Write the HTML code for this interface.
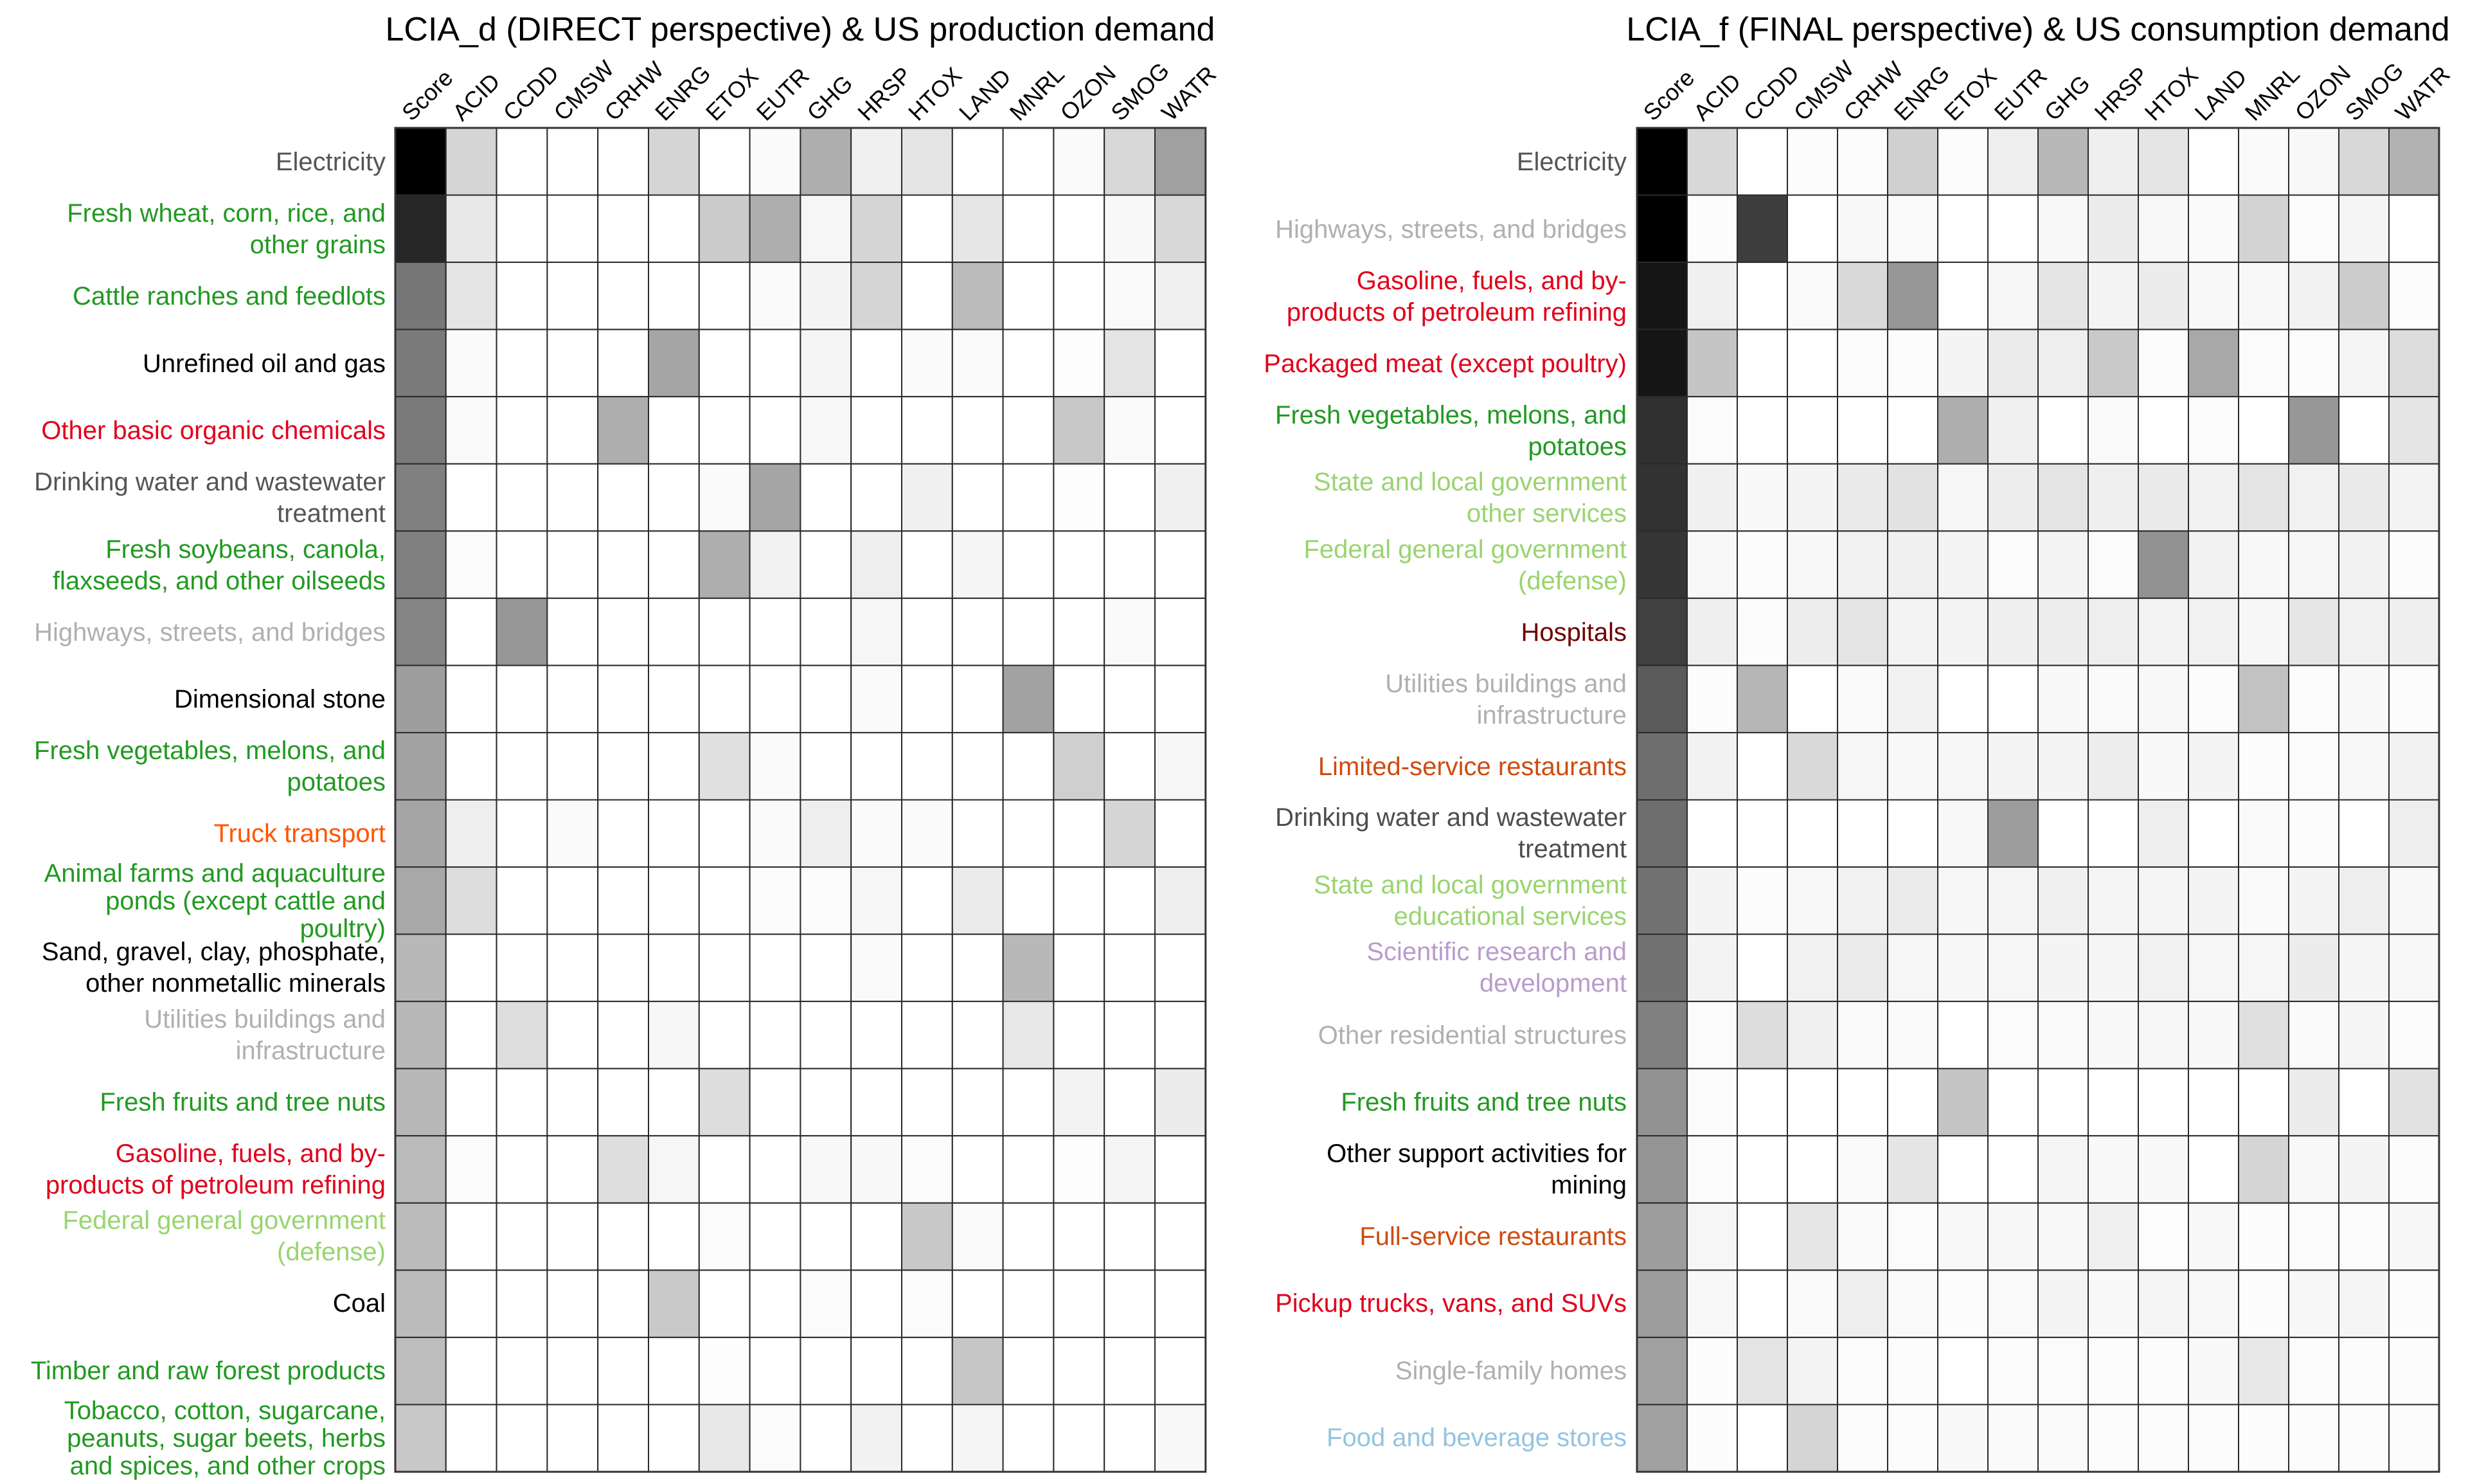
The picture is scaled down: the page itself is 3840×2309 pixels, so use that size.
<!DOCTYPE html>
<html><head><meta charset="utf-8"><style>
html,body{margin:0;padding:0;background:#fff;}
svg text{font-family:"Liberation Sans",Arial,sans-serif;}
</style></head><body>
<svg id="s" width="3840" height="2304" viewBox="0 0 3840 2304" xmlns="http://www.w3.org/2000/svg">
<rect width="3840" height="2304" fill="#fff"/>
<text x="1245" y="63" font-size="52" text-anchor="middle" fill="#000">LCIA_d (DIRECT perspective) &amp; US production demand</text>
<text x="3171" y="63" font-size="52" text-anchor="middle" fill="#000">LCIA_f (FINAL perspective) &amp; US consumption demand</text>
<g id="cells"></g>
<g id="collabs" font-size="36" fill="#000"></g>
<g font-size="40" text-anchor="end">
<text x="600" y="265" fill="#555">Electricity</text>
<text x="600" fill="#229922"><tspan x="600" y="345">Fresh wheat, corn, rice, and</tspan><tspan x="600" y="394">other grains</tspan></text>
<text x="600" y="474" fill="#229922">Cattle ranches and feedlots</text>
<text x="600" y="579" fill="#000">Unrefined oil and gas</text>
<text x="600" y="683" fill="#e0001b">Other basic organic chemicals</text>
<text x="600" fill="#555"><tspan x="600" y="763">Drinking water and wastewater</tspan><tspan x="600" y="812">treatment</tspan></text>
<text x="600" fill="#229922"><tspan x="600" y="868">Fresh soybeans, canola,</tspan><tspan x="600" y="917">flaxseeds, and other oilseeds</tspan></text>
<text x="600" y="997" fill="#b0b0b0">Highways, streets, and bridges</text>
<text x="600" y="1101" fill="#000">Dimensional stone</text>
<text x="600" fill="#229922"><tspan x="600" y="1181">Fresh vegetables, melons, and</tspan><tspan x="600" y="1230">potatoes</tspan></text>
<text x="600" y="1310" fill="#ff5500">Truck transport</text>
<text x="600" fill="#229922"><tspan x="600" y="1372">Animal farms and aquaculture</tspan><tspan x="600" y="1415">ponds (except cattle and</tspan><tspan x="600" y="1458">poultry)</tspan></text>
<text x="600" fill="#000"><tspan x="600" y="1494">Sand, gravel, clay, phosphate,</tspan><tspan x="600" y="1543">other nonmetallic minerals</tspan></text>
<text x="600" fill="#b0b0b0"><tspan x="600" y="1599">Utilities buildings and</tspan><tspan x="600" y="1648">infrastructure</tspan></text>
<text x="600" y="1728" fill="#229922">Fresh fruits and tree nuts</text>
<text x="600" fill="#e0001b"><tspan x="600" y="1808">Gasoline, fuels, and by-</tspan><tspan x="600" y="1857">products of petroleum refining</tspan></text>
<text x="600" fill="#99d470"><tspan x="600" y="1912">Federal general government</tspan><tspan x="600" y="1961">(defense)</tspan></text>
<text x="600" y="2041" fill="#000">Coal</text>
<text x="600" y="2146" fill="#229922">Timber and raw forest products</text>
<text x="600" fill="#229922"><tspan x="600" y="2208">Tobacco, cotton, sugarcane,</tspan><tspan x="600" y="2251">peanuts, sugar beets, herbs</tspan><tspan x="600" y="2294">and spices, and other crops</tspan></text>
<text x="2531" y="265" fill="#555">Electricity</text>
<text x="2531" y="370" fill="#b0b0b0">Highways, streets, and bridges</text>
<text x="2531" fill="#e0001b"><tspan x="2531" y="450">Gasoline, fuels, and by-</tspan><tspan x="2531" y="499">products of petroleum refining</tspan></text>
<text x="2531" y="579" fill="#e0001b">Packaged meat (except poultry)</text>
<text x="2531" fill="#229922"><tspan x="2531" y="659">Fresh vegetables, melons, and</tspan><tspan x="2531" y="708">potatoes</tspan></text>
<text x="2531" fill="#99d470"><tspan x="2531" y="763">State and local government</tspan><tspan x="2531" y="812">other services</tspan></text>
<text x="2531" fill="#99d470"><tspan x="2531" y="868">Federal general government</tspan><tspan x="2531" y="917">(defense)</tspan></text>
<text x="2531" y="997" fill="#700000">Hospitals</text>
<text x="2531" fill="#b0b0b0"><tspan x="2531" y="1077">Utilities buildings and</tspan><tspan x="2531" y="1126">infrastructure</tspan></text>
<text x="2531" y="1206" fill="#cc4c10">Limited-service restaurants</text>
<text x="2531" fill="#4d4d4d"><tspan x="2531" y="1285">Drinking water and wastewater</tspan><tspan x="2531" y="1334">treatment</tspan></text>
<text x="2531" fill="#99d470"><tspan x="2531" y="1390">State and local government</tspan><tspan x="2531" y="1439">educational services</tspan></text>
<text x="2531" fill="#b89ccc"><tspan x="2531" y="1494">Scientific research and</tspan><tspan x="2531" y="1543">development</tspan></text>
<text x="2531" y="1624" fill="#b0b0b0">Other residential structures</text>
<text x="2531" y="1728" fill="#229922">Fresh fruits and tree nuts</text>
<text x="2531" fill="#000"><tspan x="2531" y="1808">Other support activities for</tspan><tspan x="2531" y="1857">mining</tspan></text>
<text x="2531" y="1937" fill="#cc4c10">Full-service restaurants</text>
<text x="2531" y="2041" fill="#e0001b">Pickup trucks, vans, and SUVs</text>
<text x="2531" y="2146" fill="#b0b0b0">Single-family homes</text>
<text x="2531" y="2250" fill="#94c4e0">Food and beverage stores</text>
</g>
</svg>
<script>
var L=[
"00 d5 ff ff ff d5 ff fa ae f0 e4 ff ff fa d8 a0",
"26 e8 ff ff ff ff cb ae f6 d5 ff e6 ff ff f9 d8",
"77 e4 ff ff ff ff ff fa f4 d5 ff bb ff ff fa f0",
"7a fa ff ff ff a5 ff ff f5 ff fa fa ff fd e4 ff",
"7a fa ff ff ae ff ff ff f8 ff ff ff ff c8 fa ff",
"80 ff ff ff ff ff fa a5 ff ff f0 ff ff fd ff f0",
"80 fb ff ff ff ff ae f2 ff ee ff f5 ff ff ff ff",
"85 ff 96 ff ff ff ff ff ff f6 ff ff ff ff fa ff",
"9e ff ff ff ff ff ff ff ff fa ff ff a2 ff ff ff",
"a2 ff ff ff ff ff e0 fa ff ff ff ff ff cf ff f6",
"a5 ee ff fa ff ff ff fa ee fa fa ff ff ff d5 ff",
"a8 dd ff ff ff ff ff fb fc f6 ff eb ff ff ff ee",
"b8 ff ff ff ff ff ff ff ff fa ff ff b8 ff ff ff",
"b8 ff de ff ff f7 ff ff ff ff ff ff e8 ff ff ff",
"b8 ff ff ff ff ff dd ff ff ff ff ff ff f3 ff ec",
"bb fb ff ff de f6 ff ff f8 f8 fb ff ff fd f5 ff",
"bb ff ff ff ff ff fb ff ff ff c8 fa ff ff ff ff",
"bb ff ff ff ff c9 ff ff fb ff fb ff ff ff ff ff",
"bd ff ff ff ff ff fd ff ff ff ff c6 ff ff ff ff",
"c8 ff ff ff ff ff e8 fb ff f2 ff f5 ff ff ff f8"];
var R=[
"00 d8 ff fc fc d0 fc ee b8 ef e5 ff fa f8 d8 b2",
"00 fc 3e ff f8 fa ff ff f8 ec f8 fa d3 fc f5 ff",
"15 f0 ff fa da 97 ff f7 e5 f4 ec f8 f8 f2 cc fc",
"15 c5 ff ff fb fc f4 eb ee c9 fc a8 fb fc f5 dc",
"30 fb ff ff ff ff ae f0 ff fa ff fb ff 97 ff e5",
"32 f0 f9 f4 ea e2 f6 ed e4 ef ea f1 e4 f1 ea f3",
"35 f8 fc f8 f1 f0 f4 fb f4 fb 92 f2 f8 f6 f2 fc",
"40 ef fc ed e4 f3 f4 ef ed ee f3 f1 f7 e6 f1 ef",
"5b fc b6 ff fa f2 ff ff f9 fa f8 fc c2 fc f9 fc",
"6e f2 ff d9 f6 f8 f6 f4 f4 ed f9 f4 fc fb f8 f2",
"6e ff ff ff ff ff f8 9d ff ff ee ff fa fc ff ee",
"72 f4 fc f8 f1 eb f7 f5 f0 f5 f5 f4 fa f4 ee f8",
"72 f3 ff f1 eb f6 f7 f6 f4 f5 f1 f6 f6 ec f5 f8",
"80 fb dd f0 fa fa ff fb fa f9 f7 f9 e0 fa f5 fc",
"92 fb ff ff ff ff c5 ff ff ff ff ff ff ec ff e2",
"95 fb ff ff fa e5 ff ff f5 f9 f9 ff d5 f8 f4 fc",
"9d f6 ff e6 fa fb f8 f7 f8 f0 fd f8 fc fb fb f7",
"9d f8 ff fa ee fa fc fa f4 f9 f5 f8 fc f7 f5 fc",
"a0 fc e4 f4 fc fc fe fc fb fc fc f9 e8 fc fc fc",
"a0 fc ff d5 fc fc f9 fa fa fc fc fc fc fc fc fc"];
var cols=["Score","ACID","CCDD","CMSW","CRHW","ENRG","ETOX","EUTR","GHG","HRSP","HTOX","LAND","MNRL","OZON","SMOG","WATR"];
var NS="http://www.w3.org/2000/svg";
var g=document.getElementById("cells"),cl=document.getElementById("collabs");
var top0=199,rh=104.55;
function grid(data,x0,cw){
 for(var r=0;r<20;r++){var v=data[r].split(" ");
  for(var c=0;c<16;c++){var e=document.createElementNS(NS,"rect");
   e.setAttribute("x",x0+c*cw);e.setAttribute("y",top0+r*rh);
   e.setAttribute("width",cw);e.setAttribute("height",rh);
   e.setAttribute("fill","#"+v[c]+v[c]+v[c]);
   e.setAttribute("stroke","#2a2a2a");e.setAttribute("stroke-width","2");
   g.appendChild(e);}}
 var o=document.createElementNS(NS,"rect");o.setAttribute("x",x0);o.setAttribute("y",top0);
 o.setAttribute("width",cw*16);o.setAttribute("height",rh*20);o.setAttribute("fill","none");
 o.setAttribute("stroke","#333");o.setAttribute("stroke-width","3");g.appendChild(o);
 for(var c=0;c<16;c++){var t=document.createElementNS(NS,"text");
  var x=x0+cw*(c+0.5)-14,y=190;
  t.setAttribute("x",x);t.setAttribute("y",y);
  t.setAttribute("transform","rotate(-45 "+x+" "+y+")");
  t.textContent=cols[c];cl.appendChild(t);}
}
grid(L,615,78.8);
grid(R,2547,78.0);
</script>
</body></html>
